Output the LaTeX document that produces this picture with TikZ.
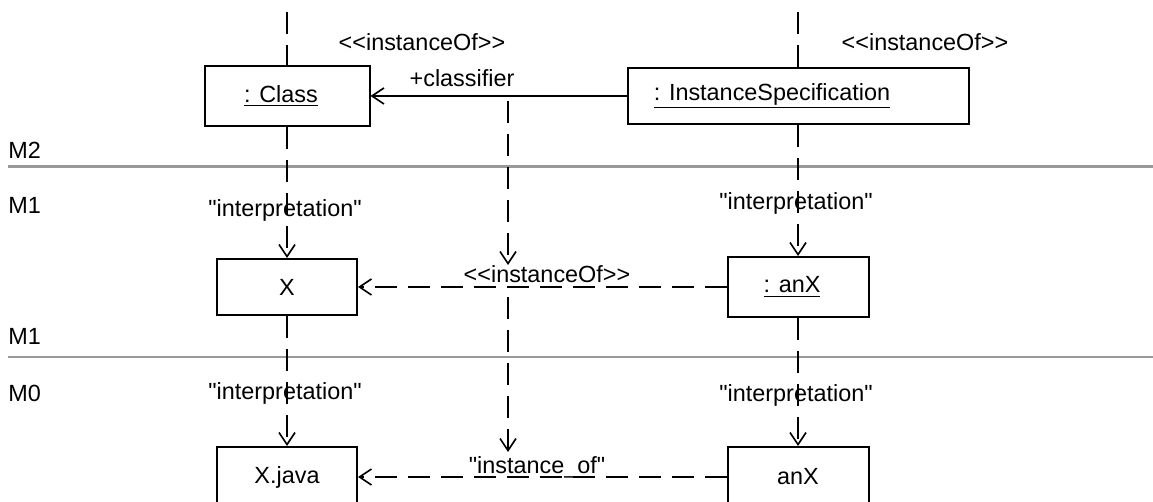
\documentclass[tikz,border=0pt]{standalone}
\usepackage{fontspec}
\setmainfont{Liberation Sans}[Ligatures=TeXOff]
\usetikzlibrary{arrows.meta}
\tikzset{
	box/.style={draw, line width=1pt, inner sep=0pt, font=\fontsize{11.7}{14}\selectfont},
	lbl/.style={inner sep=0pt, font=\fontsize{11.7}{14}\selectfont},
	life/.style={line width=0.9pt, dash pattern=on 11pt off 5.5pt},
	dep/.style={life, -{Straight Barb[length=6pt,width=8pt,line width=0.8pt]}},
	assoc/.style={line width=0.9pt, -{Straight Barb[length=6pt,width=8pt,line width=0.8pt]}},
	level/.style={draw=black!40},
}

\begin{document}
\begin{tikzpicture}[x=0.5pt, y=-0.5pt]
		%%%%% START %%%%%
		\useasboundingbox (0, 0) rectangle (1153, 502);
		\clip (0, 0) rectangle (1153, 502);
		
		% level separators
		\draw[level, line width=1.5pt] (8, 167) -- (1153, 167);
		\draw[level, line width=1pt] (8, 357) -- (1153, 357);
		\node[lbl, anchor=west] (m2) at (8, 150) {M2};
		\node[lbl, anchor=west] (m1a) at (8, 205) {M1};
		\node[lbl, anchor=west] (m1b) at (8, 336) {M1};
		\node[lbl, anchor=west] (m0) at (8, 393) {M0};
		
		% M2
		\node[box, minimum width=82.5pt, minimum height=30pt] (cls) at (287, 96) {\underline{: Class}\hspace*{6pt}};
		\node[box, minimum width=170.5pt, minimum height=28pt] (isp) at (798, 96) {\underline{: InstanceSpecification}\hspace*{26pt}};
		% M1
		\node[box, minimum width=70pt, minimum height=28pt] (x) at (287, 287) {X};
		\node[box, minimum width=70.5pt, minimum height=30pt] (anx) at (798, 287) {\underline{: anX}\hspace*{6pt}};
		% M0
		\node[box, minimum width=70pt, minimum height=30pt] (xjava) at (287, 477) {X.java};
		\node[box, minimum width=70.5pt, minimum height=30pt] (anxo) at (798, 477) {anX};
		
		% labels
		\node[lbl] (ioL) at (422, 42) {<<instanceOf>>};
		\node[lbl] (ioR) at (925, 42) {<<instanceOf>>};
		\node[lbl] (cf) at (462, 78) {+classifier};
		\node[lbl] (inL1) at (285, 210) {"interpretation"};
		\node[lbl] (inR1) at (796, 203) {"interpretation"};
		\node[lbl] (inL0) at (285, 393) {"interpretation"};
		\node[lbl] (inR0) at (796, 395) {"interpretation"};
		\node[lbl] (ioM) at (547, 274) {<<instanceOf>>};
		\node[lbl] (iofM) at (537, 467) {"instance\_of"};
		
		\coordinate (topL) at (287, 12);
		\coordinate (topR) at (798, 12);
		\coordinate (cfA) at (508, 101);
		\coordinate (cfB) at (508, 265);
		\coordinate (cfC) at (508, 297);
		\coordinate (cfD) at (508, 452);
		
		% lifelines
		\draw[life] (topL) -- (cls.north);
		\draw[life] (topR) -- (isp.north);
		\draw[dep] (cls.south) -- (x.north);
		\draw[dep] (isp.south) -- (anx.north);
		\draw[dep] (x.south) -- (xjava.north);
		\draw[dep] (anx.south) -- (anxo.north);
		
		% instance links
		\draw[assoc] (isp.west) -- (cls.east);
		\draw[dep] (anx.west) -- (x.east);
		\draw[dep] (anxo.west) -- (xjava.east);
		\draw[dep] (cfA) -- (cfB);
		\draw[dep] (cfC) -- (cfD);
		%%%%% END %%%%%
	\end{tikzpicture}
\end{document}
